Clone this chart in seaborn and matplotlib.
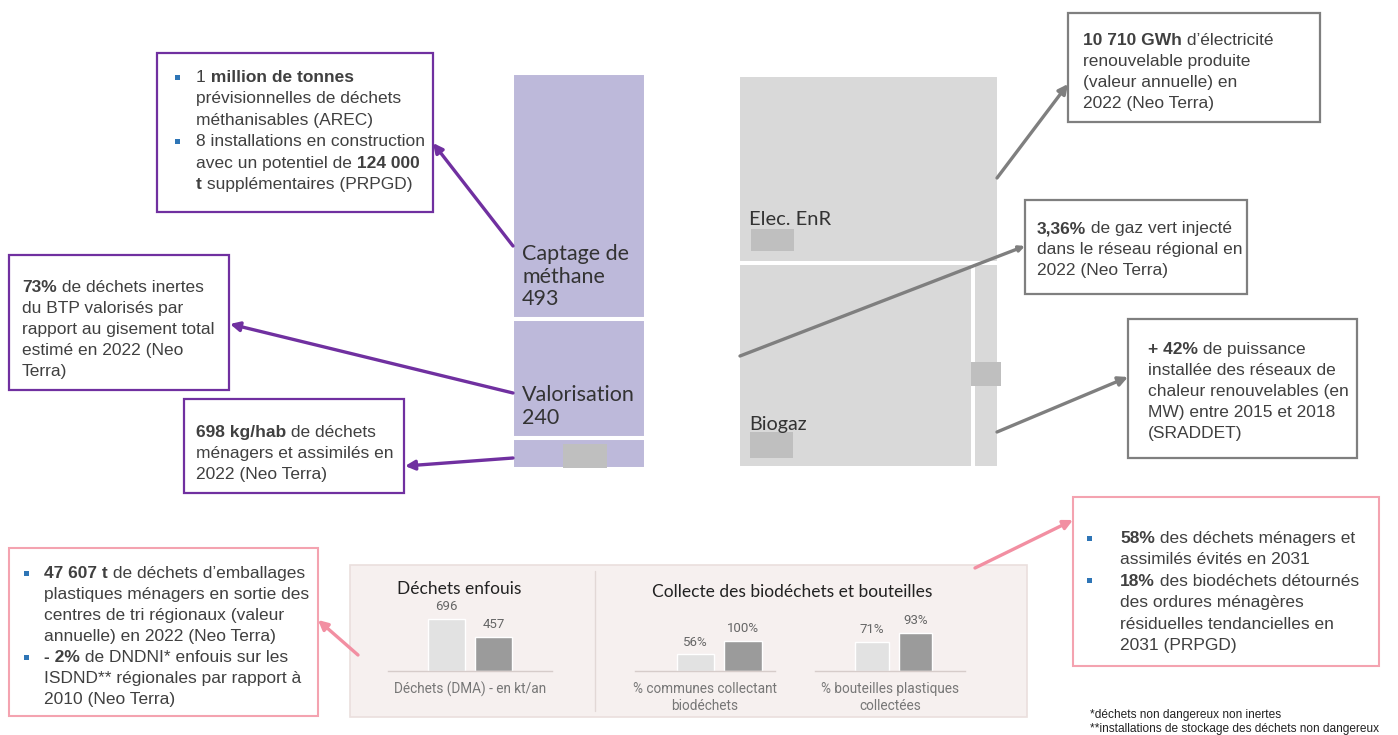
import matplotlib
matplotlib.use("Agg")
import matplotlib.pyplot as plt
import numpy as np
import pandas as pd
import seaborn as sns
from matplotlib.patches import Rectangle

# ---------------- data ----------------
dechets_labels = ["Captage de\nméthane", "Valorisation", "Autre"]
dechets_values = [493, 240, 62]          # 3rd value masked in the source (estimated)
energie_labels = ["Elec. EnR", "Biogaz", "Autre"]
energie_values = [46, 45, 5]             # values masked in the source (relative sizes estimated)
series_names = ["Actuel", "Objectif"]
enfouis_values = [696, 457]
biodechets_values = [56, 100]
bouteilles_values = [71, 93]
panel_titles = ["Déchets enfouis", "Collecte des biodéchets et bouteilles"]
panel_labels = ["Déchets (DMA) - en kt/an",
                "% communes collectant\nbiodéchets",
                "% bouteilles plastiques\ncollectées"]
footnotes = ["*déchets non dangereux non inertes",
             "**installations de stockage des déchets non dangereux"]

# ---------------- style ----------------
sns.set_theme(style="white")
plt.rcParams["font.family"] = ["Liberation Sans", "DejaVu Sans"]

W, H = 1398, 735
fig = plt.figure(figsize=(W / 100, H / 100), dpi=100)
fig.patch.set_facecolor("white")

PURPLE = "#7030A0"
GREY = "#7F7F7F"
PINK = "#F28FA2"
PINK_BOX = "#F4A3B0"
LAV = "#BDB9DA"
TM_GREY = "#D9D9D9"
MASK = "#BFBFBF"
TXT = "#404040"
LIGHT = "#E2E2E2"
DARK = "#9B9B9B"


def px_axes(l, t, r, b, z=1):
    ax = fig.add_axes([l / W, 1 - b / H, (r - l) / W, (b - t) / H])
    ax.set_zorder(z)
    return ax


# ---------------- background panel ----------------
bg = px_axes(0, 0, W, H, z=0)
bg.set_xlim(0, W); bg.set_ylim(H, 0); bg.axis("off")
bg.add_patch(Rectangle((350, 565), 677, 152, facecolor="#F6F0EF", edgecolor="#EADFDD", lw=1.2))
bg.plot([595, 595], [571, 711], color="#E2D8D6", lw=1)

# ---------------- treemap: déchets ----------------
tl = px_axes(512, 73, 646, 469)
tot = sum(dechets_values)
bottoms = [tot - sum(dechets_values[:i + 1]) for i in range(len(dechets_values))]
tl.bar(0, dechets_values, bottom=bottoms, width=1, align="edge",
       color=LAV, edgecolor="white", linewidth=2.9)
tl.set_xlim(0, 1); tl.set_ylim(0, tot); tl.axis("off")

# ---------------- treemap: énergie ----------------
tr = px_axes(738, 75, 999, 468)
e_tot = sum(energie_values)
row = energie_values[1] + energie_values[2]
tr.bar(0, energie_values[0], bottom=row, width=1, align="edge",
       color=TM_GREY, edgecolor="white", linewidth=2.9)
fb = energie_values[1] / row
tr.bar([0, fb], [row, row], width=[fb, 1 - fb], align="edge",
       color=TM_GREY, edgecolor="white", linewidth=2.9)
tr.set_xlim(0, 1); tr.set_ylim(0, e_tot); tr.axis("off")

# ---------------- small bar charts ----------------
def bar_panel(box, vals, xl, ymax, width, fmt, label):
    ax = px_axes(*box)
    df = pd.DataFrame({"serie": series_names, "val": vals})
    sns.barplot(data=df, x="serie", y="val", hue="serie", palette=[LIGHT, DARK],
                width=width, legend=False, saturation=1, ax=ax)
    ax.set_xlim(*xl); ax.set_ylim(0, ymax)
    for c in ax.containers:
        ax.bar_label(c, fmt=fmt, padding=4, fontsize=9.5, color="#666666", family="Roboto")
    ax.set_facecolor("none")
    for s in ["left", "right", "top"]:
        ax.spines[s].set_visible(False)
    ax.spines["bottom"].set_color("#D6CCCA")
    ax.spines["bottom"].set_linewidth(1)
    ax.set_xticks([]); ax.set_yticks([])
    ax.set_ylabel("")
    ax.set_xlabel(label, fontsize=9.8, color="#777777", family="Roboto",
                  labelpad=8, linespacing=1.3)
    return ax

bar_panel((388, 595, 552, 671), enfouis_values, (-1.245, 2.245), 1017, 0.79, "{:.0f}", panel_labels[0])
bar_panel((635, 595, 775, 671), biodechets_values, (-1.274, 1.674), 253, 0.79, "{:.0f}%", panel_labels[1])
bar_panel((815, 595, 965, 671), bouteilles_values, (-1.31, 2.138), 186, 0.78, "{:.0f}%", panel_labels[2])

# ---------------- overlay ----------------
ov = px_axes(0, 0, W, H, z=3)
ov.set_xlim(0, W); ov.set_ylim(H, 0); ov.axis("off")
ov.patch.set_visible(False)

# treemap labels
TMF = dict(family="Lato", color="#333333", va="baseline", ha="left")
cap_lines = dechets_labels[0].split("\n") + [f"{dechets_values[0]}"]
for line, yb in zip(cap_lines, [260, 283, 305]):
    ov.text(522, yb, line, fontsize=15.5, **TMF)
for line, yb in zip([dechets_labels[1], f"{dechets_values[1]}"], [401, 424]):
    ov.text(522, yb, line, fontsize=15.5, **TMF)
ov.text(749, 225, energie_labels[0], fontsize=14.5, **TMF)
ov.text(749, 430, energie_labels[1], fontsize=14.2, **TMF)
# masked values in the source
for (x, y, w, h) in [(563, 444, 44, 24), (751, 229, 43, 22), (750, 432, 43, 26), (971, 362, 30, 24)]:
    ov.add_patch(Rectangle((x, y), w, h, facecolor=MASK, edgecolor="none"))

# panel titles
ov.text(459, 589, panel_titles[0], fontsize=12.5, family="Lato", color="#222222", ha="center", va="center")
ov.text(792, 592, panel_titles[1], fontsize=12.5, family="Lato", color="#222222", ha="center", va="center")


# arrows
def arrow(tail, head, color, ms=14):
    ov.annotate("", xy=head, xytext=tail,
                arrowprops=dict(arrowstyle="-|>", color=color, lw=2.4,
                                mutation_scale=ms, shrinkA=0, shrinkB=0))

arrow((513, 246), (433, 143), PURPLE)
arrow((513, 393), (230, 324), PURPLE)
arrow((513, 458), (405, 466), PURPLE)
arrow((997, 178), (1068, 84), GREY)
arrow((740, 356), (1025, 246), GREY, ms=8)
arrow((997, 432), (1128, 377), GREY)
arrow((358, 655), (318, 620), PINK)
arrow((975, 568), (1073, 520), PINK)


def rich_line(x, y, segs, size=12.5, color=TXT):
    prev = None
    for s, b in segs:
        kw = dict(fontsize=size, fontweight="bold" if b else "normal",
                  color=color, family="Liberation Sans")
        if prev is None:
            prev = ov.text(x, y, s, va="baseline", ha="left", **kw)
        else:
            prev = ov.annotate(s, xy=(1, 0), xycoords=prev, va="bottom", ha="left", **kw)


def text_box(rect, edge, lw, x, y0, step, lines, bullets=(), bx=None):
    x0, y_0, x1, y_1 = rect
    ov.add_patch(Rectangle((x0, y_0), x1 - x0, y_1 - y_0, facecolor="white",
                           edgecolor=edge, lw=lw, zorder=2))
    for i, segs in enumerate(lines):
        yc = y0 + i * step
        rich_line(x, yc + 5, segs)
        if i in bullets:
            ov.add_patch(Rectangle((bx - 2.5, yc - 2.5), 5, 5, facecolor="#2E75B6",
                                   edgecolor="none", zorder=3))

N, B = False, True

text_box((157, 53, 433, 212), PURPLE, 1.6, 196, 77, 21.4, [
    [("1", N), (" million de tonnes", B)],
    [("prévisionnelles de déchets", N)],
    [("méthanisables (AREC)", N)],
    [("8 installations en construction", N)],
    [("avec un potentiel de", N), (" 124 000", B)],
    [("t", B), (" supplémentaires (PRPGD)", N)],
], bullets=(0, 3), bx=177)

text_box((9, 255, 229, 390), PURPLE, 1.6, 22, 287, 21, [
    [("73%", B), (" de déchets inertes", N)],
    [("du BTP valorisés par", N)],
    [("rapport au gisement total", N)],
    [("estimé en 2022 (Neo", N)],
    [("Terra)", N)],
])

text_box((184, 399, 404, 493), PURPLE, 1.6, 196, 432, 21, [
    [("698 kg/hab", B), (" de déchets", N)],
    [("ménagers et assimilés en", N)],
    [("2022 (Neo Terra)", N)],
])

text_box((9, 548, 318, 716), PINK_BOX, 1.5, 44, 573, 21, [
    [("47 607 t", B), (" de déchets d’emballages", N)],
    [("plastiques ménagers en sortie des", N)],
    [("centres de tri régionaux (valeur", N)],
    [("annuelle) en 2022 (Neo Terra)", N)],
    [("- 2%", B), (" de DNDNI* enfouis sur les", N)],
    [("ISDND** régionales par rapport à", N)],
    [("2010 (Neo Terra)", N)],
], bullets=(0, 4), bx=26)

text_box((1068, 13, 1320, 122), GREY, 1.6, 1083, 40, 21, [
    [("10 710 GWh", B), (" d’électricité", N)],
    [("renouvelable produite", N)],
    [("(valeur annuelle) en", N)],
    [("2022 (Neo Terra)", N)],
])

text_box((1025, 200, 1247, 294), GREY, 1.6, 1037, 228, 21, [
    [("3,36%", B), (" de gaz vert injecté", N)],
    [("dans le réseau régional en", N)],
    [("2022 (Neo Terra)", N)],
])

text_box((1128, 319, 1357, 458), GREY, 1.6, 1148, 349, 21, [
    [("+ 42%", B), (" de puissance", N)],
    [("installée des réseaux de", N)],
    [("chaleur renouvelables (en", N)],
    [("MW) entre 2015 et 2018", N)],
    [("(SRADDET)", N)],
])

text_box((1073, 497, 1379, 666), PINK_BOX, 1.5, 1120, 538, 21.4, [
    [("58%", B), (" des déchets ménagers et", N)],
    [("assimilés évités en 2031", N)],
    [("18%", B), (" des biodéchets détournés", N)],
    [("des ordures ménagères", N)],
    [("résiduelles tendancielles en", N)],
    [("2031 (PRPGD)", N)],
], bullets=(0, 2), bx=1089)

# footnotes
ov.text(1090, 715, footnotes[0], fontsize=8.6, color="#222222", va="center", family="Liberation Sans")
ov.text(1090, 729, footnotes[1], fontsize=8.6, color="#222222", va="center", family="Liberation Sans")

fig.savefig("out.png", dpi=100, facecolor="white")
